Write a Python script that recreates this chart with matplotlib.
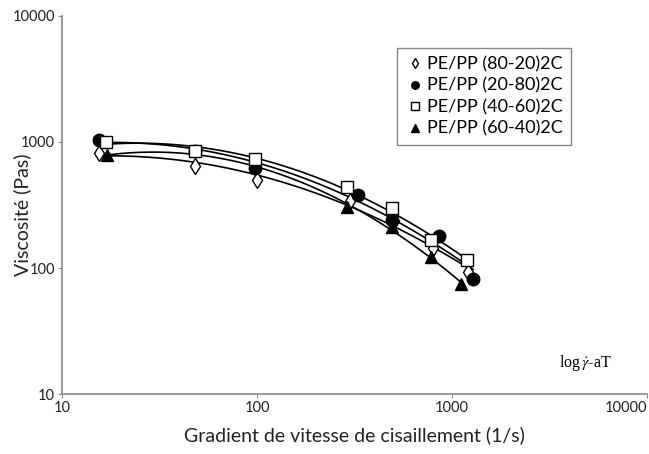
import matplotlib.pyplot as plt
import numpy as np

plt.rcParams['font.family'] = ['Lato', 'DejaVu Sans']
plt.rcParams['mathtext.fontset'] = 'stix'

labels = ["PE/PP (80-20)2C", "PE/PP (20-80)2C", "PE/PP (40-60)2C", "PE/PP (60-40)2C"]

x_8020 = [15.5, 48, 100, 300, 500, 800, 1200]
y_8020 = [820, 640, 500, 340, 235, 145, 93]

x_2080 = [15.5, 48, 97, 330, 490, 860, 1280]
y_2080 = [1040, 840, 620, 380, 240, 178, 82]

x_4060 = [16.8, 48, 97, 290, 490, 780, 1190]
y_4060 = [1000, 850, 730, 440, 300, 168, 116]

x_6040 = [17, 290, 490, 780, 1110]
y_6040 = [790, 305, 212, 123, 74]

series = [
    (x_8020, y_8020, 'd', 'white'),
    (x_2080, y_2080, 'o', 'black'),
    (x_4060, y_4060, 's', 'white'),
    (x_6040, y_6040, '^', 'black'),
]

fig = plt.figure(figsize=(6.49, 4.54), dpi=100)
ax = fig.add_axes([0.0955, 0.132, 0.902, 0.833])

for (xs, ys, m, fc), lab in zip(series, labels):
    lx = np.log10(xs)
    ly = np.log10(ys)
    # trend line: 2nd order fit in log-log space
    p = np.polyfit(lx, ly, 2)
    xx = np.linspace(lx.min(), lx.max(), 100)
    ax.plot(10 ** xx, 10 ** np.polyval(p, xx), color='black', lw=1.2, zorder=2)
    ax.plot(xs, ys, linestyle='none', marker=m, markersize=9 if m != 'd' else 8,
            markerfacecolor=fc, markeredgecolor='black', markeredgewidth=1.0,
            label=lab, zorder=3)

ax.set_xscale('log')
ax.set_yscale('log')
ax.set_xlim(10, 10000)
ax.set_ylim(10, 10000)

ax.set_xticks([10, 100, 1000, 10000], ['10', '100', '1000', '10000'])
ax.set_yticks([10, 100, 1000, 10000], ['10', '100', '1000', '10000'])
ax.minorticks_off()
ax.tick_params(labelsize=10.5, length=3, color='#888888', labelcolor='#222222', pad=2)
xt = ax.get_xticklabels()
xt[-1].set_horizontalalignment('right')

for s in ['top', 'right']:
    ax.spines[s].set_visible(False)
for s in ['left', 'bottom']:
    ax.spines[s].set_color('#888888')
    ax.spines[s].set_linewidth(1.2)

ax.set_xlabel('Gradient de vitesse de cisaillement (1/s)', fontsize=14, color='#222222', labelpad=8)
ax.set_ylabel('Viscosité (Pas)', fontsize=14, color='#222222', va='center')
ax.yaxis.set_label_coords(-0.068, 0.474)

ax.text(0.94, 0.082, r'log$\,\dot{\gamma}$-aT', transform=ax.transAxes, ha='right', va='center',
        fontsize=11.5, family='Liberation Serif')

leg = ax.legend(loc='upper left', bbox_to_anchor=(0.573, 0.915), fontsize=13,
                frameon=True, fancybox=False, handletextpad=0.2, handlelength=1.0,
                borderpad=0.45, labelspacing=0.3, markerscale=0.6,
                borderaxespad=0)
leg.get_frame().set_edgecolor('#666666')
leg.get_frame().set_linewidth(1.0)

fig.savefig('out.png', dpi=100)
